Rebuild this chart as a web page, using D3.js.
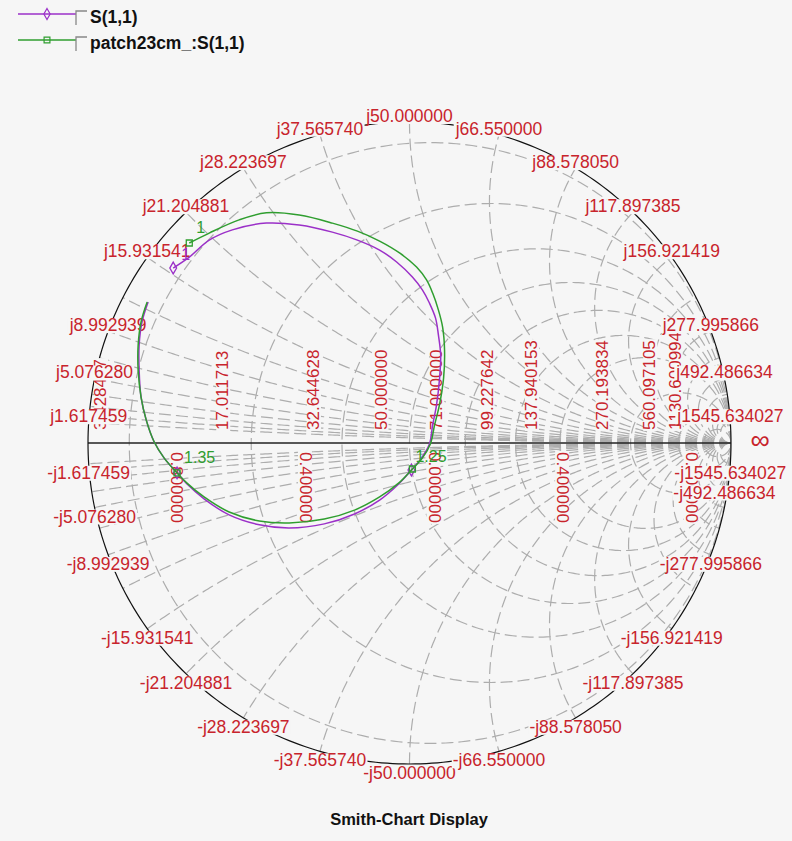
<!DOCTYPE html>
<html><head><meta charset="utf-8">
<script src="https://cdn.jsdelivr.net/npm/d3@7"></script>
<style>body{margin:0;background:#f6f6f6}text{font-family:"Liberation Sans",Arial,sans-serif}</style>
</head><body><svg id="c" width="792" height="841"></svg>
<script>
// ---------------- data ----------------
const Z0 = 50;
const reactanceGrid = [1.617459,2.152837,2.865427,3.813884,5.076280,6.756528,8.992939,11.969603,15.931541,21.204881,28.223697,37.565740,50,66.55,88.578050,117.897385,156.921419,208.862409,277.995866,370.012497,492.486634,655.499710,872.470114,1161.257722,1545.634027];
const reactanceLabels = [1.617459,5.076280,8.992939,15.931541,21.204881,28.223697,37.565740,50,66.55,88.578050,117.897385,156.921419,277.995866,492.486634,1545.634027];
const resistanceValues = [3.428457,17.011713,32.644628,50,71,99.227642,137.940153,270.193834,560.097105,1130.600994];
const gammaTicks = [-0.8,-0.4,0,0.4,0.8];
const gammaTickLabels = ["0.800000","0.400000","0.000000","0.400000","0.800000"];
const markerFreqs = ["1","1.25","1.35"];

// S(1,1) reflection coefficient (real, imag)
const s11Re = [-0.735,-0.685,-0.623,-0.551,-0.445,-0.343,-0.240,-0.162,-0.093,-0.040,0.009,0.040,0.062,0.081,0.090,0.097,0.093,0.084,0.072,0.062,0.037,0.006,-0.037,-0.093,-0.171,-0.265,-0.374,-0.467,-0.561,-0.639,-0.692,-0.723,-0.763,-0.794,-0.819,-0.835,-0.841,-0.841,-0.832,-0.813];
const s11Im = [0.545,0.579,0.632,0.664,0.685,0.679,0.657,0.632,0.601,0.564,0.517,0.477,0.436,0.389,0.336,0.274,0.196,0.118,0.056,-0.003,-0.047,-0.084,-0.131,-0.178,-0.221,-0.252,-0.265,-0.255,-0.224,-0.174,-0.128,-0.093,-0.047,0.003,0.072,0.143,0.227,0.305,0.377,0.439];
const s11MarkerIdx = [0,21,31];
// patch23cm_:S(1,1)
const patchRe = [-0.685,-0.623,-0.530,-0.445,-0.343,-0.240,-0.162,-0.093,-0.031,0.022,0.053,0.072,0.090,0.103,0.109,0.106,0.093,0.078,0.065,0.040,0.009,-0.034,-0.093,-0.171,-0.265,-0.374,-0.467,-0.561,-0.639,-0.692,-0.723,-0.763,-0.794,-0.819,-0.835,-0.844,-0.844,-0.835,-0.816];
const patchIm = [0.623,0.654,0.695,0.717,0.710,0.685,0.660,0.629,0.592,0.548,0.508,0.467,0.414,0.361,0.290,0.202,0.118,0.056,-0.003,-0.047,-0.081,-0.125,-0.168,-0.209,-0.237,-0.249,-0.243,-0.215,-0.168,-0.125,-0.093,-0.047,0.003,0.072,0.143,0.227,0.305,0.377,0.439];
const patchMarkerIdx = [0,20,30];

// ---------------- setup ----------------
const BG = "#f6f6f6", RED = "#c8242c", GRID = "#adadad";
const PURPLE = "#9b30c8", GREEN = "#2f9e2f";
const labelNudge = {"-j492.486634": -24};
const svg = d3.select("#c");
svg.append("rect").attr("width",792).attr("height",841).attr("fill",BG);
const X = d3.scaleLinear().domain([-1,1]).range([88,731]);
const Y = d3.scaleLinear().domain([-1,1]).range([764,122]);
const line = d3.line().x(d=>X(d[0])).y(d=>Y(d[1]));
const fmt = d3.format(".6f");
const unit = d3.range(0,361).map(a=>[Math.cos(a*Math.PI/180),Math.sin(a*Math.PI/180)]);

svg.append("clipPath").attr("id","clip").append("path").attr("d", line(unit));

const grid = svg.append("g").attr("clip-path","url(#clip)")
  .attr("fill","none").attr("stroke",GRID).attr("stroke-width",1.2).attr("stroke-dasharray","12,5");

// constant resistance circles
resistanceValues.forEach(R=>{
  const r = R/Z0;
  const c = r/(1+r), rad = 1/(1+r);
  const pts = d3.range(0,361,1).map(a=>[c+rad*Math.cos(a*Math.PI/180), rad*Math.sin(a*Math.PI/180)]);
  grid.append("path").attr("d", line(pts));
});
// constant reactance arcs
reactanceGrid.forEach(Xv=>{
  const x = Xv/Z0;
  const phi = Math.atan2((x*x-1)/x, -2);
  const end = phi > -Math.PI/2 ? phi - 2*Math.PI : phi;
  const n = 240;
  [1,-1].forEach(sg=>{
    const pts = d3.range(n+1).map(i=>{
      const t = -Math.PI/2 + (end + Math.PI/2)*i/n;
      return [1 + Math.cos(t)/x, sg*(1/x + Math.sin(t)/x)];
    });
    grid.append("path").attr("d", line(pts));
  });
});

// real axis and outer circle
svg.append("line").attr("x1",X(-1)).attr("x2",X(1)).attr("y1",Y(0)).attr("y2",Y(0))
  .attr("stroke","#222").attr("stroke-width",1.3);
svg.append("path").attr("d", line(unit))
  .attr("fill","none").attr("stroke","#111").attr("stroke-width",1.2);

// labels with background
function label(x, y, rot, txt, anchor, size, color){
  const g = svg.append("g").attr("transform",`translate(${x},${y}) rotate(${rot})`);
  const t = g.append("text").text(txt).attr("text-anchor",anchor)
    .attr("font-size",size).attr("fill",color);
  const b = t.node().getBBox();
  g.insert("rect","text").attr("x",b.x-1).attr("y",b.y+3).attr("width",b.width+2)
    .attr("height",b.height-5).attr("fill",BG);
  return t;
}
// resistance labels (rotated)
resistanceValues.forEach(R=>{
  const r = R/Z0, g = (r-1)/(r+1);
  label(X(g)-23, 430, -90, fmt(R), "start", 17, RED);
});
// gamma tick labels under axis
gammaTicks.forEach((g,i)=>{
  label(X(g)+19, 452, 90, gammaTickLabels[i], "start", 17, RED);
});
// reactance labels
reactanceLabels.forEach(Xv=>{
  const x = Xv/Z0;
  const gx = (x*x-1)/(x*x+1), gy = 2*x/(x*x+1);
  const up = "j"+fmt(Xv), dn = "-j"+fmt(Xv);
  label(X(gx), Y(gy)+(labelNudge[up]||0), 0, up, "middle", 17.5, RED);
  label(X(gx), Y(-gy)+15+(labelNudge[dn]||0), 0, dn, "middle", 17.5, RED);
});
svg.append("text").attr("x",760).attr("y",449).attr("text-anchor","middle")
  .attr("font-size",27).attr("fill",RED).text("\u221e");

// traces
function trace(re, im, color, idx, symbol){
  const pts = re.map((v,i)=>[v, im[i]]);
  svg.append("path").attr("d", d3.line().x(d=>X(d[0])).y(d=>Y(d[1])).curve(d3.curveCatmullRom)(pts))
    .attr("fill","none").attr("stroke",color).attr("stroke-width",1.5);
  idx.forEach(k=>{
    svg.append("path").attr("transform",`translate(${X(pts[k][0])},${Y(pts[k][1])})`)
      .attr("d", d3.symbol().type(symbol).size(symbol===d3.symbolDiamond?40:36)())
      .attr("fill","none").attr("stroke",color).attr("stroke-width",1.3);
  });
}
trace(s11Re, s11Im, PURPLE, s11MarkerIdx, d3.symbolDiamond);
trace(patchRe, patchIm, GREEN, patchMarkerIdx, d3.symbolSquare);

// marker labels
const mk = svg.append("g").attr("font-size",16);
mk.append("text").attr("x",X(s11Re[0])+8).attr("y",Y(s11Im[0])-8).attr("fill",PURPLE).text(markerFreqs[0]);
mk.append("text").attr("x",X(patchRe[0])+7).attr("y",Y(patchIm[0])-10).attr("fill",GREEN).text(markerFreqs[0]);
mk.append("text").attr("x",X(patchRe[20])+3).attr("y",Y(patchIm[20])-7).attr("fill",GREEN).text(markerFreqs[1]);
mk.append("text").attr("x",X(patchRe[30])+7).attr("y",Y(patchIm[30])-10).attr("fill",GREEN).text(markerFreqs[2]);

// legend
const leg = svg.append("g");
[["S(1,1)",PURPLE,d3.symbolDiamond,14],["patch23cm_:S(1,1)",GREEN,d3.symbolSquare,40]].forEach(([name,col,sym,y])=>{
  leg.append("line").attr("x1",18).attr("x2",76).attr("y1",y).attr("y2",y).attr("stroke",col).attr("stroke-width",1.3);
  leg.append("path").attr("transform",`translate(47,${y})`).attr("d",d3.symbol().type(sym).size(34)())
    .attr("fill","none").attr("stroke",col).attr("stroke-width",1.2);
  leg.append("path").attr("d",`M76,${y+11}V${y-3}H87`).attr("fill","none").attr("stroke","#888").attr("stroke-width",1.3);
  leg.append("text").attr("x",90).attr("y",y+9).attr("font-size",17.5).attr("font-weight","bold")
    .attr("fill","#111").text(name);
});

// title
svg.append("text").attr("x",409).attr("y",825).attr("text-anchor","middle").attr("font-size",16.5)
  .attr("font-weight","bold").attr("fill","#111").text("Smith-Chart Display");
</script></body></html>
